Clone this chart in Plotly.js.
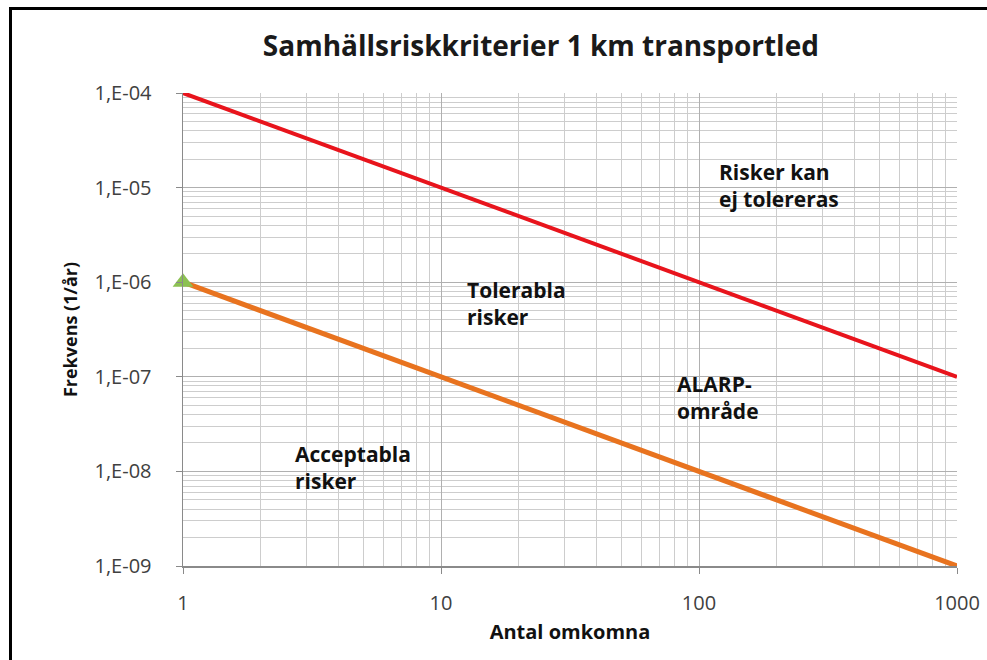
<!DOCTYPE html>
<html>
<head>
<meta charset="utf-8">
<script src="https://cdn.plot.ly/plotly-3.0.1.min.js"></script>
<style>
html,body{margin:0;padding:0;background:#fff;}
#wrap{position:relative;width:987px;height:660px;overflow:hidden;}
#chart{position:absolute;left:0;top:0;width:987px;height:660px;}
#frame{position:absolute;left:9px;top:7px;width:990px;height:700px;border-left:3px solid #000;border-top:3px solid #000;pointer-events:none;}
</style>
</head>
<body>
<div id="wrap"><div id="chart"></div><div id="frame"></div></div>
<script>
// Data
const deaths = [1, 1000];
const upperLimit = [1e-4, 1e-7];
const lowerLimit = [1e-6, 1e-9];
const markerX = [1];
const markerY = [1e-6];
const xTickVals = [1, 10, 100, 1000];
const xTickText = ['1', '10', '100', '1000'];
const yTickVals = [1e-9, 1e-8, 1e-7, 1e-6, 1e-5, 1e-4];
const yTickText = ['1,E-09', '1,E-08', '1,E-07', '1,E-06', '1,E-05', '1,E-04'];
const regionLabels = ['Risker kan<br>ej tolereras', 'Tolerabla<br>risker', 'ALARP-<br>område', 'Acceptabla<br>risker'];
const regionX = [117, 12.4, 81, 2.68];
const regionY = [1.04e-5, 5.9e-7, 6.0e-8, 1.09e-8];

const FONT = '"Open Sans", "Noto Sans", sans-serif';

const traces = [
  {x: deaths, y: upperLimit, mode: 'lines', line: {color: '#e8141c', width: 4}, cliponaxis: false, hoverinfo: 'skip'},
  {x: deaths, y: lowerLimit, mode: 'lines', line: {color: '#e8731f', width: 5}, cliponaxis: false, hoverinfo: 'skip'},
  {x: markerX, y: markerY, mode: 'markers', marker: {symbol: 'triangle-up', size: 18, color: '#8cc152', line: {width: 0}}, cliponaxis: false, hoverinfo: 'skip'}
];

const annotations = regionLabels.map((t, i) => ({
  x: Math.log10(regionX[i]), y: Math.log10(regionY[i]), xref: 'x', yref: 'y',
  text: '<b>' + t + '</b>', showarrow: false, xanchor: 'left', yanchor: 'middle', align: 'left',
  font: {family: FONT, size: 21, color: '#111'}
}));

const layout = {
  width: 987, height: 660,
  margin: {l: 183, r: 30, t: 93, b: 94},
  paper_bgcolor: '#fff', plot_bgcolor: '#fff',
  showlegend: false,
  title: {text: '<b>Samhällsriskkriterier 1 km transportled</b>', x: 0.548, xanchor: 'center', y: 0.93, yanchor: 'middle',
          font: {family: FONT, size: 28, color: '#1a1a1a'}},
  xaxis: {
    type: 'log', range: [0, 3], tickmode: 'array', tickvals: xTickVals, ticktext: xTickText,
    showgrid: true, gridcolor: '#b0b0b0', gridwidth: 1,
    minor: {dtick: 'D1', showgrid: true, gridcolor: '#cdcdcd', gridwidth: 1, ticks: ''},
    showline: true, linecolor: '#8a8a8a', linewidth: 1.5, ticks: 'outside', ticklen: 6, tickcolor: '#8a8a8a',
    ticklabelstandoff: 12,
    tickfont: {family: FONT, size: 20, color: '#404040'},
    title: {text: '<b>Antal omkomna</b>', font: {family: FONT, size: 20, color: '#111'}, standoff: 10},
    zeroline: false
  },
  yaxis: {
    type: 'log', range: [-9, -4], tickmode: 'array', tickvals: yTickVals, ticktext: yTickText,
    showgrid: true, gridcolor: '#b0b0b0', gridwidth: 1,
    minor: {dtick: 'D1', showgrid: true, gridcolor: '#cdcdcd', gridwidth: 1, ticks: ''},
    showline: true, linecolor: '#8a8a8a', linewidth: 1.5, ticks: 'outside', ticklen: 6, tickcolor: '#8a8a8a',
    ticklabelstandoff: 20,
    tickfont: {family: FONT, size: 20, color: '#404040'},
    title: {text: '<b>Frekvens (1/år)</b>', font: {family: FONT, size: 18, color: '#111'}, standoff: 12},
    zeroline: false
  },
  annotations: annotations
};

Plotly.newPlot('chart', traces, layout, {staticPlot: true, displayModeBar: false});
</script>
</body>
</html>
